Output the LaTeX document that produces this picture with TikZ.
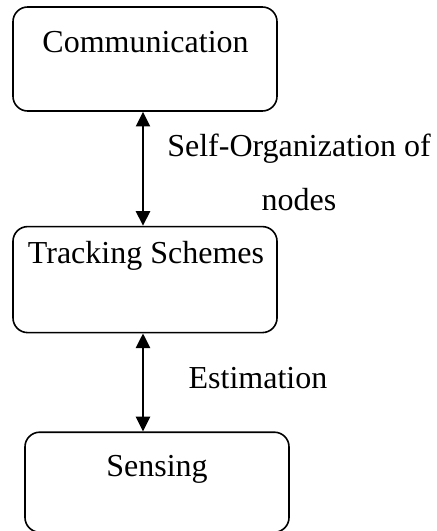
\documentclass[tikz,border=0pt]{standalone}
\usepackage{fontspec}
\setmainfont{Liberation Serif}
\usetikzlibrary{arrows.meta,positioning,calc}
\tikzset{
  layerbox/.style={
    draw=black,
    line width=1.2pt,
    rounded corners=11pt,
    minimum width=198pt,
    inner sep=0pt
  },
  layertext/.style={
    font=\fontsize{24}{28}\selectfont,
    anchor=base,
    inner sep=0pt
  },
  linktext/.style={
    font=\fontsize{24}{41}\selectfont,
    align=center,
    anchor=base,
    inner sep=0pt
  },
  linkarrow/.style={{Triangle[length=11pt,width=10.5pt]}-{Triangle[length=11pt,width=10.5pt]}, line width=1.8pt}
}
\begin{document}
\begin{tikzpicture}
  \useasboundingbox (0,0) rectangle (327pt,-398.25pt);
  \node[layerbox,minimum height=78pt] (comm) at (108.75pt,-44.25pt) {};
  \node[layerbox,minimum height=79.5pt,below=85.5pt of comm] (track) {};
  \node[layerbox,minimum height=75pt,below=73.5pt of track,xshift=9pt] (sense) {};
  \node[layertext] (commtxt) at ($(comm.north)+(0.4pt,-34.5pt)$) {Communication};
  \node[layertext] (tracktxt) at ($(track.north)+(0.75pt,-28.5pt)$) {Tracking Schemes};
  \node[layertext] (sensetxt) at ($(sense.north)+(0pt,-33.5pt)$) {Sensing};
  \coordinate (axis) at ([xshift=-1.5pt]comm.south);
  \draw[linkarrow] (axis |- comm.south) -- (axis |- track.north);
  \draw[linkarrow] (axis |- track.south) -- (axis |- sense.north);
  \node[linktext] (selforg) at (224.25pt,-158pt) {Self-Organization of\\nodes};
  \node[linktext] (estim) at (193.5pt,-291pt) {Estimation};
\end{tikzpicture}
\end{document}
